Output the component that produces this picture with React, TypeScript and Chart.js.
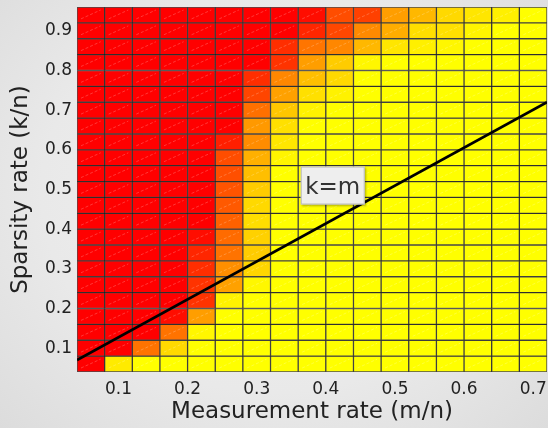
import React, { useEffect, useRef } from "react";
import { Chart, registerables } from "chart.js";

Chart.register(...registerables);

// Column centres along the measurement-rate axis (m/n)
const measurementRates = [
  0.06, 0.1, 0.14, 0.18, 0.22, 0.26, 0.3, 0.34, 0.38, 0.42, 0.46, 0.5, 0.54, 0.58, 0.62, 0.66, 0.7,
];

// Row centres along the sparsity-rate axis (k/n), top row first
const sparsityRates = [
  0.94, 0.9, 0.86, 0.82, 0.78, 0.74, 0.7, 0.66, 0.62, 0.58, 0.54, 0.5, 0.46, 0.42, 0.38, 0.34,
  0.3, 0.26, 0.22, 0.18, 0.14, 0.1, 0.06,
];

const cellWidth = 0.04;
const cellHeight = 0.04;

const xTickValues = [0.1, 0.2, 0.3, 0.4, 0.5, 0.6, 0.7];
const yTickValues = [0.1, 0.2, 0.3, 0.4, 0.5, 0.6, 0.7, 0.8, 0.9];

// Recovery success rate per cell (0 = failure, 1 = success); rows follow sparsityRates
const recoveryRate = [
  [0, 0, 0, 0, 0, 0, 0, 0, 0.05, 0.3, 0.25, 0.62, 0.72, 0.85, 0.9, 0.94, 1],
  [0, 0, 0, 0, 0, 0, 0, 0, 0.15, 0.28, 0.54, 0.68, 0.87, 0.88, 0.96, 1, 1],
  [0, 0, 0, 0, 0, 0, 0, 0.18, 0.46, 0.53, 0.72, 0.9, 0.94, 0.97, 1, 1, 1],
  [0, 0, 0, 0, 0, 0, 0, 0.2, 0.62, 0.8, 0.97, 1, 1, 1, 1, 1, 1],
  [0, 0, 0, 0, 0, 0, 0.18, 0.53, 0.75, 0.85, 1, 1, 1, 1, 1, 1, 1],
  [0, 0, 0, 0, 0, 0, 0.27, 0.63, 0.88, 0.95, 1, 1, 1, 1, 1, 1, 1],
  [0, 0, 0, 0, 0, 0, 0.44, 0.78, 0.95, 1, 1, 1, 1, 1, 1, 1, 1],
  [0, 0, 0, 0, 0, 0, 0.6, 0.88, 1, 1, 1, 1, 1, 1, 1, 1, 1],
  [0, 0, 0, 0, 0, 0.12, 0.55, 0.9, 1, 1, 1, 1, 1, 1, 1, 1, 1],
  [0, 0, 0, 0, 0, 0.3, 0.69, 0.96, 1, 1, 1, 1, 1, 1, 1, 1, 1],
  [0, 0, 0, 0, 0, 0.31, 0.75, 1, 1, 1, 1, 1, 1, 1, 1, 1, 1],
  [0, 0, 0, 0, 0, 0.33, 0.8, 1, 1, 1, 1, 1, 1, 1, 1, 1, 1],
  [0, 0, 0, 0, 0, 0.35, 0.85, 1, 1, 1, 1, 1, 1, 1, 1, 1, 1],
  [0, 0, 0, 0, 0, 0.38, 0.87, 1, 1, 1, 1, 1, 1, 1, 1, 1, 1],
  [0, 0, 0, 0, 0.05, 0.42, 0.82, 1, 1, 1, 1, 1, 1, 1, 1, 1, 1],
  [0, 0, 0, 0, 0.15, 0.45, 0.8, 1, 1, 1, 1, 1, 1, 1, 1, 1, 1],
  [0, 0, 0, 0, 0.18, 0.56, 0.84, 1, 1, 1, 1, 1, 1, 1, 1, 1, 1],
  [0, 0, 0, 0, 0.2, 0.63, 0.97, 1, 1, 1, 1, 1, 1, 1, 1, 1, 1],
  [0, 0, 0, 0, 0.2, 0.95, 1, 1, 1, 1, 1, 1, 1, 1, 1, 1, 1],
  [0, 0, 0, 0.05, 0.62, 1, 1, 1, 1, 1, 1, 1, 1, 1, 1, 1, 1],
  [0, 0, 0, 0.45, 0.97, 1, 1, 1, 1, 1, 1, 1, 1, 1, 1, 1, 1],
  [0, 0, 0.45, 0.85, 1, 1, 1, 1, 1, 1, 1, 1, 1, 1, 1, 1, 1],
  [0, 0.92, 1, 1, 1, 1, 1, 1, 1, 1, 1, 1, 1, 1, 1, 1, 1],
];

// Reference line through the grid
const kmLinePoints = [
  { x: 0.04, y: 0.07 },
  { x: 0.72, y: 0.72 },
];
const kmLabelText = "k=m";
const kmLabelAt = { m: 0.41, k: 0.51 };

const FONT = '"DejaVu Sans", "Liberation Sans", sans-serif';

// Red -> yellow ("autumn") colour scale
const autumn = (v: number) => `rgb(255, ${Math.round(255 * v)}, 0)`;

// Faint diagonal sheen on each cell
const cellSheen = {
  id: "cellSheen",
  afterDatasetDraw(chart: any, args: any) {
    const ds = chart.data.datasets[args.index];
    if (ds.type !== "bar") return;
    const ctx = chart.ctx;
    ctx.save();
    ctx.strokeStyle = "rgba(255,255,255,0.22)";
    ctx.lineWidth = 1;
    ctx.setLineDash([3, 2]);
    for (const el of args.meta.data) {
      const { x, y, base, width } = el.getProps(["x", "y", "base", "width"], true);
      const left = x - width / 2;
      const right = x + width / 2;
      const top = Math.min(y, base);
      const bottom = Math.max(y, base);
      ctx.beginPath();
      ctx.moveTo(left + 4, bottom - 4);
      ctx.lineTo(right - 4, top + 3);
      ctx.stroke();
    }
    ctx.restore();
  },
};

// Boxed text label for the reference line
const kmLabel = {
  id: "kmLabel",
  afterDraw(chart: any) {
    const ctx = chart.ctx;
    const cx = chart.scales.x.getPixelForValue(kmLabelAt.m);
    const cy = chart.scales.y.getPixelForValue(kmLabelAt.k);
    ctx.save();
    ctx.font = `23px ${FONT}`;
    const tw = ctx.measureText(kmLabelText).width;
    const w = tw + 9;
    const h = 38;
    ctx.shadowColor = "rgba(0,0,0,0.3)";
    ctx.shadowBlur = 2;
    ctx.shadowOffsetX = 1;
    ctx.shadowOffsetY = 1;
    ctx.fillStyle = "#eeeeee";
    ctx.fillRect(cx - w / 2, cy - h / 2, w, h);
    ctx.shadowColor = "transparent";
    ctx.strokeStyle = "#b8b8b8";
    ctx.lineWidth = 1;
    ctx.strokeRect(cx - w / 2 + 0.5, cy - h / 2 + 0.5, w - 1, h - 1);
    ctx.fillStyle = "#333333";
    ctx.textAlign = "center";
    ctx.textBaseline = "alphabetic";
    ctx.fillText(kmLabelText, cx, cy + 8);
    ctx.restore();
  },
};

export default function App() {
  const ref = useRef<HTMLCanvasElement>(null);

  useEffect(() => {
    const rowDatasets = sparsityRates.map((k, r) => ({
      type: "bar" as const,
      data: measurementRates.map((m) => ({ x: m, y: [k - cellHeight / 2, k + cellHeight / 2] })),
      backgroundColor: recoveryRate[r].map(autumn),
      borderColor: "rgba(0,0,0,0.68)",
      borderWidth: 1,
      borderSkipped: false,
      grouped: false,
      barPercentage: 1,
      categoryPercentage: 1,
      order: 1,
    }));

    const lineDataset = {
      type: "line" as const,
      data: kmLinePoints,
      borderColor: "#000000",
      borderWidth: 2.8,
      pointRadius: 0,
      fill: false,
      order: 0,
    };

    const chart = new Chart(ref.current as HTMLCanvasElement, {
      type: "bar",
      data: { datasets: [...rowDatasets, lineDataset] as any },
      options: {
        animation: false,
        responsive: false,
        events: [],
        layout: { padding: { top: 7, right: 1, left: 0, bottom: 0 } },
        plugins: {
          legend: { display: false },
          tooltip: { enabled: false },
        },
        scales: {
          x: {
            type: "linear",
            min: measurementRates[0] - cellWidth / 2,
            max: measurementRates[measurementRates.length - 1] + cellWidth / 2,
            offset: false,
            grid: { display: false, drawTicks: false },
            border: { display: false },
            afterBuildTicks: (scale: any) => {
              scale.ticks = xTickValues.map((value) => ({ value }));
            },
            afterFit: (scale: any) => {
              scale.height = 56;
              scale.paddingLeft = 0;
              scale.paddingRight = 0;
            },
            ticks: {
              autoSkip: false,
              maxRotation: 0,
              padding: 7,
              color: "#222222",
              font: { family: FONT, size: 17 },
              callback: (v: any) => Number(v).toFixed(1),
            },
            title: {
              display: true,
              text: "Measurement rate (m/n)",
              color: "#222222",
              font: { family: FONT, size: 23 },
              padding: { top: 0, bottom: 2 },
            },
          },
          y: {
            type: "linear",
            min: sparsityRates[sparsityRates.length - 1] - cellHeight / 2,
            max: sparsityRates[0] + cellHeight / 2,
            grid: { display: false, drawTicks: false },
            border: { display: false },
            afterBuildTicks: (scale: any) => {
              scale.ticks = yTickValues.map((value) => ({ value }));
            },
            afterFit: (scale: any) => {
              scale.width = 77;
              scale.paddingTop = 0;
              scale.paddingBottom = 0;
            },
            ticks: {
              autoSkip: false,
              padding: 5,
              color: "#222222",
              font: { family: FONT, size: 17 },
              callback: (v: any) => Number(v).toFixed(1),
            },
            title: {
              display: true,
              text: "Sparsity rate (k/n)",
              color: "#222222",
              font: { family: FONT, size: 23 },
              padding: { top: 7, bottom: 0 },
            },
          },
        },
      },
      plugins: [cellSheen, kmLabel],
    } as any);

    return () => chart.destroy();
  }, []);

  return (
    <div
      style={{
        position: "fixed",
        left: 0,
        top: 0,
        width: 548,
        height: 428,
        background: "radial-gradient(ellipse at 50% 45%, #f1f1f1 0%, #e9e9e9 60%, #dcdcdc 100%)",
      }}
    >
      <canvas ref={ref} width={548} height={428} style={{ display: "block", width: 548, height: 428 }} />
    </div>
  );
}
